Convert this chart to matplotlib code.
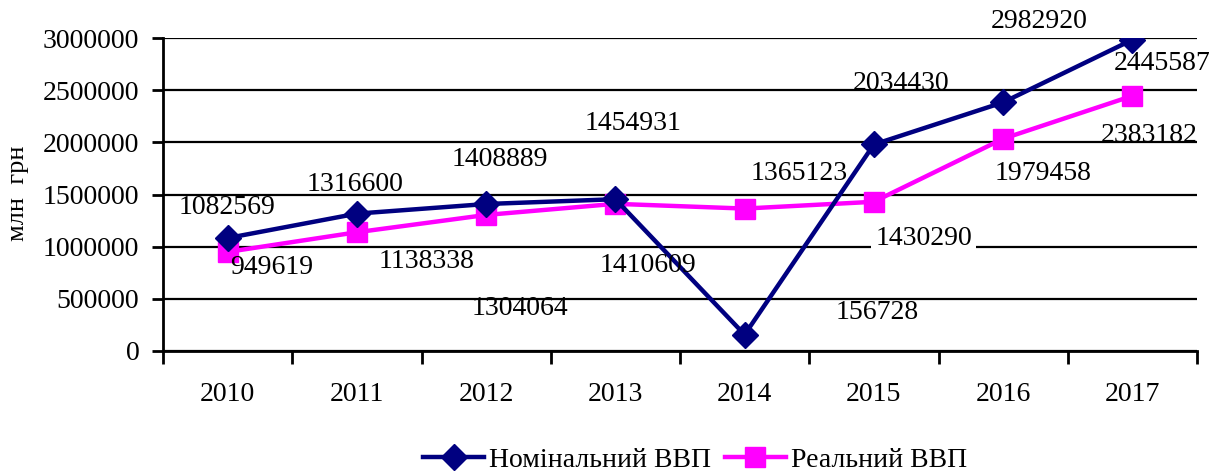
import numpy as np
from matplotlib import pyplot as plt

plt.rcParams['font.family'] = ['Liberation Serif', 'DejaVu Serif']

years = ['2010', '2011', '2012', '2013', '2014', '2015', '2016', '2017']
nominal = [1082569, 1316600, 1408889, 1454931, 156728, 1979458, 2383182, 2982920]
real = [949619, 1138338, 1304064, 1410609, 1365123, 1430290, 2034430, 2445587]

# where the data labels sit, in pixels from their point (x right, y up)
nom_offsets = [(-1, 31), (-2, 29), (14, 45), (18, 76),
               (133, 22), (169, -29), (146, -33), (-93, 18)]
real_offsets = [(44, -16), (70, -29), (34, -94), (33, -62),
                (55, 35), (50, -37), (-102, 55), (30, 32)]

fs = 20
navy = '#000080'
magenta = '#ff00ff'

fig = plt.figure(figsize=(12.12, 4.71), dpi=100)
ax = fig.add_axes([163/1212, 1-351/471, (1197-163)/1212, (351-38)/471])

x = np.arange(len(years))
ax.plot(x, nominal, color=navy, lw=3.2, marker='D', ms=13, label='Номінальний ВВП', zorder=4)
ax.plot(x, real, color=magenta, lw=3.2, marker='s', ms=14, label='Реальний ВВП', zorder=3)

for xi, v, off in zip(x, nominal, nom_offsets):
    ax.annotate(str(v), (xi, v), xytext=off, textcoords='offset pixels',
                ha='center', va='center', fontsize=fs, zorder=5)
for i, (xi, v, off) in enumerate(zip(x, real, real_offsets)):
    bb = dict(boxstyle='square,pad=0.15', fc='white', ec='none') if i == 5 else None
    ax.annotate(str(v), (xi, v), xytext=off, textcoords='offset pixels',
                ha='center', va='center', fontsize=fs, zorder=5, bbox=bb)

ax.set_xlim(-0.5, len(years) - 0.5)
ax.set_ylim(0, 3000000)
ax.set_yticks(np.arange(0, 3000001, 500000))
ax.set_yticklabels([str(t) for t in range(0, 3000001, 500000)], fontsize=fs)
ax.set_xticks(x)
ax.set_xticklabels(years, fontsize=fs)
ax.set_xticks(np.arange(-0.5, len(years)), minor=True)
ax.tick_params(axis='x', which='major', length=0, pad=22)
ax.tick_params(axis='x', which='minor', length=9, width=2, direction='out')
ax.tick_params(axis='y', length=8, width=2, direction='out', pad=9)

ax.yaxis.grid(True, color='black', lw=1.6)
ax.set_axisbelow(True)
for s in ['top', 'right']:
    ax.spines[s].set_visible(False)
for s in ['left', 'bottom']:
    ax.spines[s].set_linewidth(2)
    ax.spines[s].set_zorder(6)

fig.text(18/1212, 1-193/471, 'млн  грн', rotation=90, ha='center', va='center', fontsize=19)

fig.legend(loc='center', bbox_to_anchor=(695/1212, 1-460/471), ncol=2, frameon=False,
           fontsize=fs, handlelength=2.2, handletextpad=0.18, columnspacing=0.48,
           borderaxespad=0, borderpad=0)

fig.savefig('out.png', dpi=100)
